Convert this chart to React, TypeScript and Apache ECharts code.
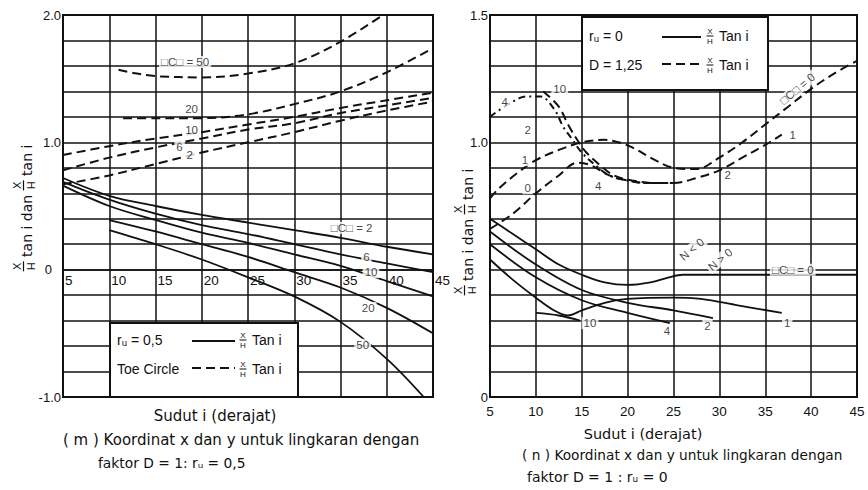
import React, { useEffect, useRef } from "react";
import * as echarts from "echarts";

// ---------- data (degrees, value) ----------
const xTicks = [5, 10, 15, 20, 25, 30, 35, 40, 45];

// Left panel (r_u = 0.5), dashed = toe circle
const lDash50 = [[11, 1.57], [13, 1.54], [15, 1.52], [20, 1.51], [25, 1.54], [30, 1.62], [35, 1.79], [39.6, 2.0]];
const lDash20 = [[11.5, 1.19], [15, 1.19], [20, 1.19], [25, 1.22], [30, 1.3], [35, 1.4], [40, 1.55], [45, 1.74]];
const lDash10 = [[5, 0.9], [10, 0.97], [15, 1.03], [20, 1.08], [25, 1.14], [30, 1.2], [35, 1.27], [40, 1.33], [45, 1.39]];
const lDash6 = [[5, 0.78], [10, 0.88], [15, 0.96], [20, 1.03], [25, 1.1], [30, 1.15], [35, 1.23], [40, 1.29], [45, 1.35]];
const lDash2 = [[5, 0.67], [10, 0.74], [15, 0.83], [20, 0.92], [25, 1.0], [30, 1.08], [35, 1.17], [40, 1.25], [45, 1.32]];
// Left panel solid
const lSol2 = [[5, 0.72], [10, 0.58], [15, 0.5], [20, 0.43], [25, 0.37], [30, 0.31], [35, 0.25], [40, 0.18], [45, 0.12]];
const lSol6 = [[5, 0.69], [10, 0.55], [15, 0.44], [20, 0.35], [25, 0.28], [30, 0.2], [35, 0.12], [40, 0.05], [45, -0.02]];
const lSol10 = [[5, 0.66], [10, 0.5], [15, 0.39], [20, 0.29], [25, 0.21], [30, 0.12], [35, 0.03], [40, -0.09], [45, -0.21]];
const lSol20 = [[10, 0.39], [15, 0.3], [20, 0.2], [25, 0.1], [30, -0.02], [35, -0.14], [40, -0.3], [45, -0.5]];
const lSol50 = [[10, 0.31], [15, 0.2], [20, 0.08], [25, -0.06], [30, -0.21], [35, -0.41], [40, -0.7], [44, -1.0]];

// Right panel (r_u = 0), dashed = D = 1.25
const rDash4 = [[5, 1.1], [7, 1.15], [9, 1.18], [10.5, 1.18], [12, 1.13], [13, 1.06], [14, 1.01], [15, 0.96], [16.5, 0.91], [18, 0.87], [20, 0.85], [22, 0.84], [24, 0.84]];
const rDash10 = [[10.8, 1.2], [12.5, 1.14], [13.5, 1.07], [14.5, 1.01], [15.5, 0.96], [17, 0.91], [18.5, 0.87], [20.5, 0.85], [23, 0.84], [25, 0.84]];
const rDash0 = [[5, 0.78], [6, 0.82], [8, 0.88], [10, 0.93], [12.5, 0.97], [15, 1.0], [17.5, 1.01], [19, 1.0], [20.5, 0.98], [23, 0.93], [25, 0.9], [27.5, 0.895], [30, 0.94], [32.5, 1.0], [35, 1.07], [37.5, 1.14], [40, 1.21], [42.5, 1.27], [45, 1.32]];
const rDash1 = [[5, 0.66], [7.5, 0.72], [10, 0.8], [12.5, 0.87], [14.5, 0.92], [16, 0.91], [18, 0.87], [20, 0.85], [22.5, 0.84], [25, 0.84], [27.5, 0.86], [30, 0.89], [32.5, 0.94], [35, 0.99], [36.8, 1.03]];
// Right panel solid
const rSol0 = [[5, 0.7], [7.5, 0.64], [10, 0.58], [12.5, 0.52], [15, 0.48], [17.5, 0.45], [20, 0.44], [22.5, 0.45], [24.5, 0.47], [26, 0.48], [30, 0.48], [35, 0.48], [40, 0.48], [45, 0.48]];
const rSol2 = [[5, 0.65], [10, 0.52], [15, 0.42], [20, 0.37], [25, 0.34], [29.3, 0.31]];
const rSol4 = [[5, 0.6], [10, 0.47], [15, 0.38], [20, 0.33], [24.6, 0.29]];
const rSol1 = [[5, 0.54], [7.5, 0.46], [10, 0.39], [12, 0.34], [13.5, 0.32], [15, 0.34], [17.5, 0.37], [20, 0.385], [25, 0.39], [28, 0.385], [32, 0.36], [36.8, 0.33]];
const rSol10 = [[10, 0.33], [12.5, 0.32], [14.8, 0.3]];

// curve labels [x, y, text, rotate]
const leftLabels: [number, number, string, number][] = [
  [18.2, 1.63, "\u25A1C\u25A1 = 50", 0],
  [18.9, 1.26, "20", 0],
  [18.9, 1.1, "10", 0],
  [17.6, 0.96, "6", 0],
  [18.7, 0.9, "2", 0],
  [36.2, 0.33, "\u25A1C\u25A1 = 2", 0],
  [37.8, 0.1, "6", 0],
  [38.3, -0.02, "10", 0],
  [38.0, -0.3, "20", 0],
  [37.4, -0.59, "50", 0],
];
const rightLabels: [number, number, string, number][] = [
  [6.6, 1.16, "4", 0],
  [12.6, 1.21, "10", 0],
  [9.1, 1.05, "2", 0],
  [8.8, 0.93, "1", 0],
  [9.1, 0.82, "0", 0],
  [16.8, 0.83, "4", 0],
  [30.9, 0.87, "2", 0],
  [38.0, 1.03, "1", 0],
  [38.5, 1.21, "\u25A1C\u25A1 = 0", 40],
  [38.0, 0.5, "\u25A1C\u25A1 = 0", 0],
  [15.9, 0.29, "10", 0],
  [24.3, 0.26, "4", 0],
  [28.7, 0.28, "2", 0],
  [37.4, 0.29, "1", 0],
  [27.0, 0.58, "N < 0", 40],
  [30.1, 0.54, "N > 0", 40],
];

const INK = "#111";
const SANS = "Liberation Sans";
const WIDE = "DejaVu Sans";

function textWidth(s: string, font: string) {
  const c = document.createElement("canvas").getContext("2d");
  if (!c) return s.length * 7;
  c.font = font;
  return c.measureText(s).width;
}

function near(v: number, t: number) {
  return Math.abs(v - t) < 1e-6;
}

function lineSeries(data: number[][], idx: number, dashed: boolean, dash?: number[]) {
  return {
    type: "line",
    xAxisIndex: idx,
    yAxisIndex: idx,
    data,
    smooth: 0.35,
    showSymbol: false,
    symbol: "none",
    silent: true,
    z: 3,
    lineStyle: {
      color: INK,
      width: dashed ? 2 : 1.8,
      type: dashed ? dash || [9, 5] : "solid",
    },
  };
}

function labelSeries(labels: [number, number, string, number][], idx: number) {
  return {
    type: "scatter",
    xAxisIndex: idx,
    yAxisIndex: idx,
    symbolSize: 1,
    silent: true,
    z: 6,
    itemStyle: { color: "rgba(0,0,0,0)" },
    label: {
      show: true,
      position: "inside",
      color: INK,
      fontSize: 11.5,
      fontFamily: SANS,
      backgroundColor: "#fff",
      padding: [0, 2],
    },
    data: labels.map(([x, y, t, r]) => ({
      value: [x, y],
      label: { formatter: t, rotate: r },
    })),
  };
}

function fracFlat(cx: number, cy: number, z = 101) {
  return [
    { type: "text", x: cx, y: cy - 5, z, style: { text: "X", fontSize: 8, fontFamily: SANS, fill: INK, align: "center", verticalAlign: "middle" } },
    { type: "line", z, shape: { x1: cx - 3.5, y1: cy, x2: cx + 3.5, y2: cy }, style: { stroke: INK, lineWidth: 1 } },
    { type: "text", x: cx, y: cy + 5, z, style: { text: "H", fontSize: 8, fontFamily: SANS, fill: INK, align: "center", verticalAlign: "middle" } },
  ];
}

function yTitle(cx: number, cy: number) {
  const font = `14px "${WIDE}"`;
  const p1 = " tan i dan ";
  const p2 = " tan i";
  const fw = 10;
  const w1 = textWidth(p1, font);
  const w2 = textWidth(p2, font);
  const total = fw + w1 + fw + w2;
  let x = -total / 2;
  const children: any[] = [];
  const frac = (x0: number) => {
    children.push(
      { type: "text", x: x0 + fw / 2, y: -10.5, style: { text: "X", fontSize: 11, fontFamily: SANS, fill: INK, align: "center", verticalAlign: "middle" } },
      { type: "line", shape: { x1: x0, y1: -3.5, x2: x0 + fw, y2: -3.5 }, style: { stroke: INK, lineWidth: 1.2 } },
      { type: "text", x: x0 + fw / 2, y: 4, style: { text: "H", fontSize: 11, fontFamily: SANS, fill: INK, align: "center", verticalAlign: "middle" } }
    );
  };
  frac(x);
  x += fw;
  children.push({ type: "text", x, y: 0, style: { text: p1, fontSize: 14, fontFamily: WIDE, fill: INK, align: "left", verticalAlign: "middle" } });
  x += w1;
  frac(x);
  x += fw;
  children.push({ type: "text", x, y: 0, style: { text: p2, fontSize: 14, fontFamily: WIDE, fill: INK, align: "left", verticalAlign: "middle" } });
  return { type: "group", x: cx, y: cy, rotation: Math.PI / 2, z: 100, children };
}

function legendBox(x: number, y: number, w: number, h: number, row1: string, row2: string, r1y: number, r2y: number, lx1: number, lx2: number, fx: number) {
  const t = (text: string, tx: number, ty: number) => ({
    type: "text", x: tx, y: ty, z: 101,
    style: { text, fontSize: 14, fontFamily: SANS, fill: INK, align: "left", verticalAlign: "middle" },
  });
  return [
    { type: "rect", z: 100, shape: { x, y, width: w, height: h }, style: { fill: "#fff", stroke: INK, lineWidth: 2 } },
    t(row1, x + 7, r1y),
    { type: "line", z: 101, shape: { x1: lx1, y1: r1y + 1, x2: lx2, y2: r1y + 1 }, style: { stroke: INK, lineWidth: 2 } },
    ...fracFlat(fx, r1y),
    t("Tan i", fx + 9, r1y),
    t(row2, x + 7, r2y),
    { type: "line", z: 101, shape: { x1: lx1, y1: r2y - 1, x2: lx2, y2: r2y - 1 }, style: { stroke: INK, lineWidth: 2, lineDash: [9, 5] } },
    ...fracFlat(fx, r2y),
    t("Tan i", fx + 9, r2y),
  ];
}

function caption(text: string, x: number, y: number, size: number, align = "left") {
  return { type: "text", x, y, z: 100, style: { text, fontSize: size, fontFamily: WIDE, fill: INK, align, verticalAlign: "middle" } };
}

export default function App() {
  const ref = useRef<HTMLDivElement>(null);
  useEffect(() => {
    if (!ref.current) return;
    const chart = echarts.init(ref.current, undefined, { renderer: "svg" });
    const splitLine = { show: true, lineStyle: { color: INK, width: 1.5 } };
    const leftH = 382;
    const yMinL = -1;
    const yMaxL = 2;
    // lift the left x-axis (labels) up to the zero line
    const zeroOffset = -leftH * (0 - yMinL) / (yMaxL - yMinL);
    const option: any = {
      animation: false,
      backgroundColor: "#fff",
      grid: [
        { left: 63, top: 15, width: 370, height: leftH, show: true, borderColor: INK, borderWidth: 2, backgroundColor: "transparent", containLabel: false },
        { left: 490, top: 15, width: 367, height: 382, show: true, borderColor: INK, borderWidth: 2, backgroundColor: "transparent", containLabel: false },
      ],
      xAxis: [
        {
          gridIndex: 0, type: "value", min: xTicks[0], max: xTicks[xTicks.length - 1], interval: 5,
          position: "bottom", offset: zeroOffset,
          axisLine: { show: true, onZero: false, lineStyle: { color: INK, width: 1.5 } },
          axisTick: { show: false },
          splitLine,
          axisLabel: { color: INK, fontSize: 13.5, fontFamily: SANS, align: "left", margin: 4, padding: [0, 0, 0, 2] },
        },
        {
          gridIndex: 1, type: "value", min: xTicks[0], max: xTicks[xTicks.length - 1], interval: 5,
          axisLine: { show: true, lineStyle: { color: INK, width: 2 } },
          axisTick: { show: false },
          splitLine,
          axisLabel: { color: INK, fontSize: 13.5, fontFamily: SANS, margin: 7 },
        },
      ],
      yAxis: [
        {
          gridIndex: 0, type: "value", min: yMinL, max: yMaxL, interval: 0.2,
          axisLine: { show: true, lineStyle: { color: INK, width: 2 } },
          axisTick: { show: false },
          splitLine,
          axisLabel: {
            color: INK, fontSize: 13, fontFamily: SANS, margin: 2,
            formatter: (v: number) => near(v, 2) ? "2.0" : near(v, 1) ? "1.0" : near(v, 0) ? "{z|0}" : near(v, -1) ? "-1.0" : "",
            rich: { z: { fontSize: 13, fontFamily: SANS, color: INK, padding: [0, 9, 0, 0] } },
          },
        },
        {
          gridIndex: 1, type: "value", min: 0, max: 1.5, interval: 0.1,
          axisLine: { show: true, lineStyle: { color: INK, width: 2 } },
          axisTick: { show: false },
          splitLine,
          axisLabel: {
            color: INK, fontSize: 13, fontFamily: SANS, margin: 2,
            formatter: (v: number) => near(v, 1.5) ? "1.5" : near(v, 1) ? "1.0" : near(v, 0) ? "0" : "",
          },
        },
      ],
      series: [
        lineSeries(lDash50, 0, true),
        lineSeries(lDash20, 0, true),
        lineSeries(lDash10, 0, true),
        lineSeries(lDash6, 0, true),
        lineSeries(lDash2, 0, true),
        lineSeries(lSol2, 0, false),
        lineSeries(lSol6, 0, false),
        lineSeries(lSol10, 0, false),
        lineSeries(lSol20, 0, false),
        lineSeries(lSol50, 0, false),
        lineSeries(rDash4, 1, true, [7, 4, 2, 4]),
        lineSeries(rDash10, 1, true),
        lineSeries(rDash0, 1, true),
        lineSeries(rDash1, 1, true),
        lineSeries(rSol0, 1, false),
        lineSeries(rSol2, 1, false),
        lineSeries(rSol4, 1, false),
        lineSeries(rSol1, 1, false),
        lineSeries(rSol10, 1, false),
        labelSeries(leftLabels, 0),
        labelSeries(rightLabels, 1),
      ],
      graphic: [
        ...legendBox(110, 323, 188, 74, "r\u1D64 = 0,5", "Toe Circle", 340, 369, 192, 235, 243),
        ...legendBox(582, 17, 186, 73, "r\u1D64 = 0", "D = 1,25", 36, 65, 662, 701, 710),
        yTitle(27, 208),
        yTitle(468, 232),
        caption("Sudut i (derajat)", 215, 416, 15, "center"),
        caption("( m ) Koordinat x dan y untuk lingkaran dengan", 63, 440, 15),
        caption("faktor D = 1: r\u1D64 = 0,5", 98, 463, 13.8),
        caption("Sudut i (derajat)", 643, 434, 14.5, "center"),
        caption("( n ) Koordinat x dan y untuk lingkaran dengan", 522, 455, 13.7),
        caption("faktor D = 1 : r\u1D64 = 0", 527, 477, 14),
      ],
    };
    chart.setOption(option);
    return () => chart.dispose();
  }, []);
  return <div ref={ref} style={{ position: "fixed", left: 0, top: 0, width: 868, height: 490 }} />;
}
